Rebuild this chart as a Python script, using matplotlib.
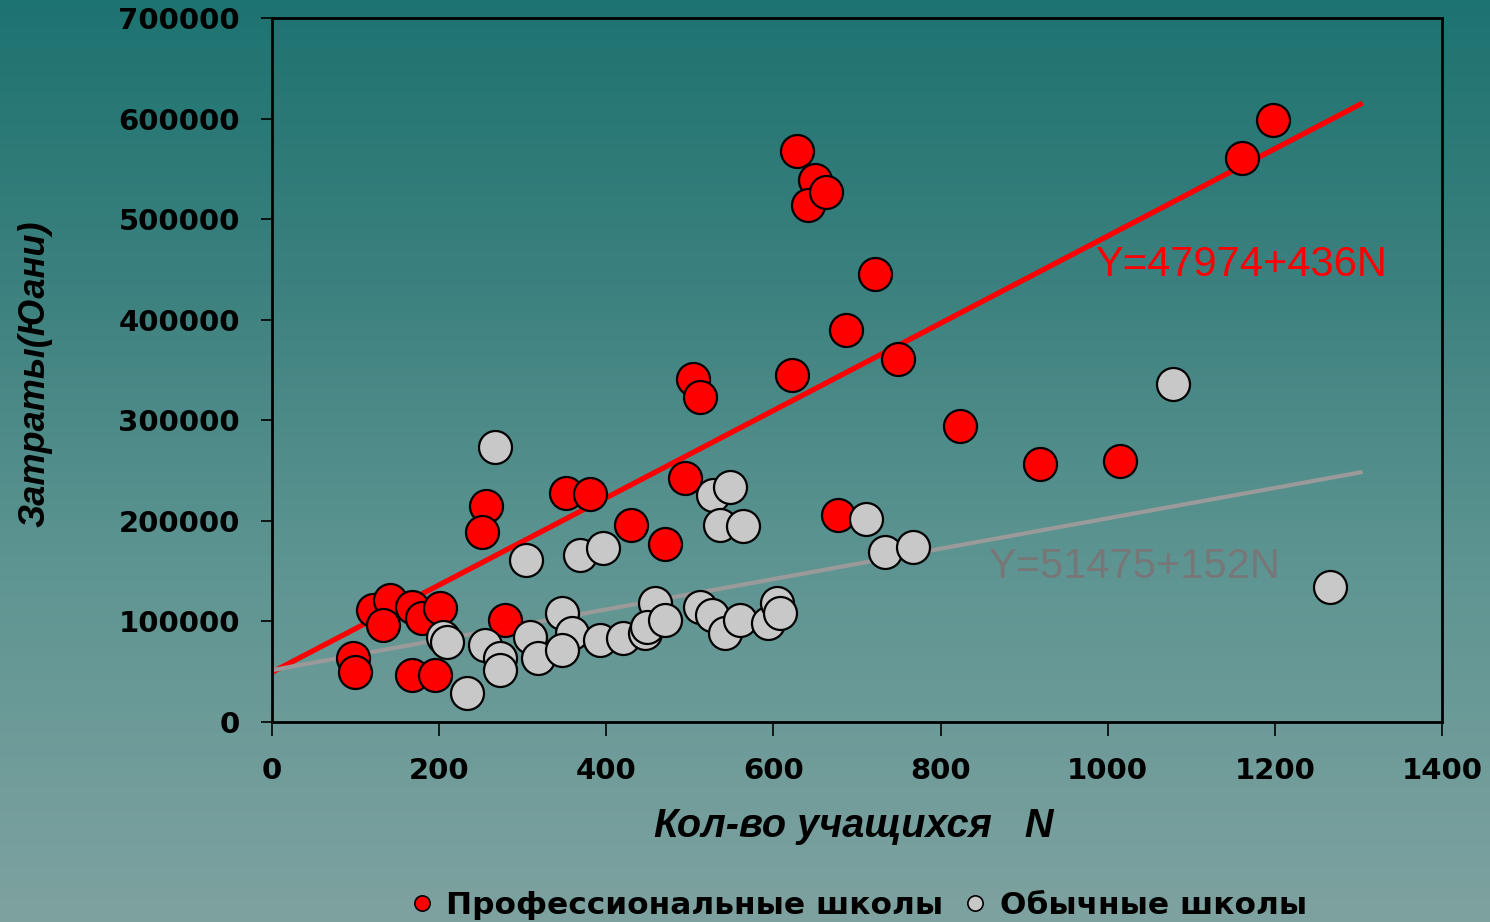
import numpy as np
import matplotlib
matplotlib.use("Agg")
import matplotlib.pyplot as plt
from matplotlib.lines import Line2D

# ---------------- data ----------------
prof_n = [628, 1198, 1161, 650, 641, 663, 722, 687, 749, 622, 504, 512, 823, 919,
          1015, 494, 352, 381, 430, 470, 677, 256, 251, 279, 121, 141, 133, 168,
          179, 201, 97, 99, 168, 195]
prof_cost = [567700, 598600, 560800, 538900, 514000, 527000, 445500, 389800,
             361000, 345000, 341000, 323000, 294300, 256500, 259500, 242600,
             227700, 226700, 195900, 177000, 205800, 214800, 188900, 101400,
             111400, 121300, 96400, 114300, 103400, 113300, 63600, 49700,
             46700, 46700]

reg_n = [267, 304, 369, 396, 528, 548, 536, 564, 711, 733, 767, 1078, 1266,
         205, 209, 255, 273, 273, 233, 309, 318, 347, 359, 347, 392, 420, 458,
         446, 449, 470, 512, 527, 542, 560, 594, 604, 608]
reg_cost = [273400, 161000, 166000, 173000, 225700, 233700, 195900, 194900,
            201800, 169000, 174000, 336100, 134200, 84500, 79500, 76600, 63600,
            51700, 28800, 84500, 63600, 108400, 88500, 71600, 81500, 83500,
            118300, 88500, 94500, 101400, 114300, 106400, 88500, 101400, 98400,
            118300, 108400]

fit_n = [0, 1305]
prof_fit = [49500, 615500]
reg_fit = [51500, 248600]

x_ticks = [0, 200, 400, 600, 800, 1000, 1200, 1400]
y_ticks = [0, 100000, 200000, 300000, 400000, 500000, 600000, 700000]

prof_label = "Профессиональные школы"
reg_label = "Обычные школы"
prof_eq = "Y=47974+436N"
reg_eq = "Y=51475+152N"
x_title = "Кол-во учащихся   N"
y_title = "Затраты(Юани)"

# ---------------- figure ----------------
W, H = 1490, 922
fig = plt.figure(figsize=(W / 100, H / 100), dpi=100)

# gradient background
bg = fig.add_axes([0, 0, 1, 1], zorder=-10)
stops_y = [0, 270, 570, 922]
stops_c = np.array([[29, 115, 112], [58, 128, 126], [94, 149, 146], [126, 162, 160]]) / 255
ys = np.arange(H)
grad = np.stack([np.interp(ys, stops_y, stops_c[:, k]) for k in range(3)], axis=-1)
grad = np.repeat(grad[:, None, :], 4, axis=1)
bg.imshow(grad, aspect="auto", extent=[0, 1, 0, 1], origin="upper")
bg.axis("off")

ax = fig.add_axes([272 / W, 1 - 722 / H, (1442 - 272) / W, (722 - 18) / H])
ax.set_facecolor("none")

ax.plot(fit_n, prof_fit, color="#FF0000", lw=3.8, zorder=2, solid_capstyle="butt")
ax.plot(fit_n, reg_fit, color="#9A9A9A", lw=3.0, zorder=2, solid_capstyle="butt")

ms = (33 * 72 / 100) ** 2
ax.scatter(prof_n, prof_cost, s=ms, facecolor="#FF0000", edgecolor="black",
           linewidth=1.6, zorder=3)
ax.scatter(reg_n, reg_cost, s=ms, facecolor="#C8C8C8", edgecolor="black",
           linewidth=1.6, zorder=4)

ax.text(985, 454400, prof_eq, color="#FF0000", fontsize=30,
        family="Liberation Sans", ha="left", va="center", zorder=5)
ax.text(857, 154100, reg_eq, color="#777777", fontsize=30,
        family="Liberation Sans", ha="left", va="center", zorder=5)

ax.set_xlim(0, 1400)
ax.set_ylim(0, 700000)
ax.set_xticks(x_ticks)
ax.set_yticks(y_ticks)
ax.set_xticklabels([str(v) for v in x_ticks])
ax.set_yticklabels([str(v) for v in y_ticks])
for sp in ax.spines.values():
    sp.set_linewidth(2)
    sp.set_color("black")
ax.tick_params(axis="both", direction="out", length=8, width=1.2, color="black",
               labelsize=21, labelcolor="black")
ax.tick_params(axis="x", pad=15, length=10)
ax.tick_params(axis="y", pad=15)
for lab in ax.get_xticklabels() + ax.get_yticklabels():
    lab.set_fontweight("bold")
    lab.set_family("DejaVu Sans")

fig.text(854 / W, 1 - 826 / H, x_title, fontsize=28.5, fontweight="bold",
         fontstyle="italic", family="Liberation Sans", ha="center", va="center")
fig.text(35 / W, 1 - 374 / H, y_title, fontsize=26, fontweight="bold",
         fontstyle="italic", family="Liberation Sans", ha="center", va="center",
         rotation=90)

handles = [
    Line2D([], [], marker="o", ls="none", markersize=11, markerfacecolor="#FF0000",
           markeredgecolor="black", markeredgewidth=1.2, label=prof_label),
    Line2D([], [], marker="o", ls="none", markersize=11, markerfacecolor="#C8C8C8",
           markeredgecolor="black", markeredgewidth=1.2, label=reg_label),
]
leg = fig.legend(handles=handles, loc="center", bbox_to_anchor=(858 / W, 1 - 905 / H),
                 ncol=2, frameon=False, handletextpad=0.4, columnspacing=0.6,
                 handlelength=0.8, prop={"family": "DejaVu Sans", "weight": "bold",
                                         "size": 22.5})

fig.savefig("out.png", dpi=100)
